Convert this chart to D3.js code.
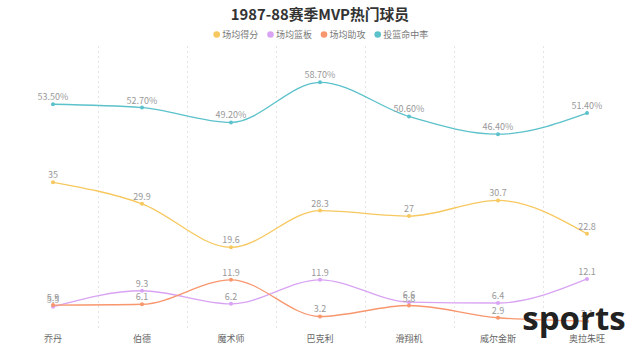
<!DOCTYPE html>
<html><head><meta charset="utf-8">
<script src="https://cdn.jsdelivr.net/npm/d3@7"></script>
<style>body{margin:0;background:#fff}svg{display:block}</style>
</head><body><svg id="c" width="640" height="351"></svg>
<script>
const title = "1987-88赛季MVP热门球员";
const players = ["乔丹","伯德","魔术师","巴克利","滑翔机","威尔金斯","奥拉朱旺"];
const seriesNames = ["场均得分","场均篮板","场均助攻","投篮命中率"];
const points   = [35, 29.9, 19.6, 28.3, 27, 30.7, 22.8];
const rebounds = [5.5, 9.3, 6.2, 11.9, 6.6, 6.4, 12.1];
const assists  = [5.9, 6.1, 11.9, 3.2, 5.8, 2.9, 2.1];
const fgPct    = [53.5, 52.7, 49.2, 58.7, 50.6, 46.4, 51.4];
const colors = ["#f7c85f","#d9a3f3","#f8966d","#5bc1cb"];

const svg = d3.select("#c");
const font = "'Noto Sans CJK SC','Noto Sans',sans-serif";
const x = d3.scaleBand().domain(players).range([8.5, 631.5]);
const y = d3.scaleLinear().domain([0, 60]).range([330, 76.8]);
const cx = d => x(d) + x.bandwidth()/2;

// grid lines
svg.append("g").selectAll("line").data(players.slice(1)).join("line")
  .attr("x1", d => Math.round(x(d))+0.5).attr("x2", d => Math.round(x(d))+0.5)
  .attr("y1", 46).attr("y2", 330)
  .attr("stroke", "#e4e4e4").attr("stroke-dasharray", "2,3");

// x labels
const xa = svg.append("g").attr("transform","translate(0,330)")
  .call(d3.axisBottom(x).tickSize(0).tickPadding(6));
xa.select(".domain").remove();
xa.selectAll("text").attr("font-family", font).attr("font-size", 9).attr("fill", "#666");

// title
svg.append("text").attr("x", 320).attr("y", 20).attr("text-anchor","middle")
  .attr("font-family", font).attr("font-weight","bold").attr("font-size", 14.8).attr("fill","#333").text(title);

// legend
const legX = [216.7, 270.5, 324, 377.7];
const leg = svg.append("g").selectAll("g").data(seriesNames).join("g")
  .attr("transform", (d,i) => `translate(${legX[i]},34.5)`);
leg.append("circle").attr("r", 3.3).attr("fill", (d,i) => colors[i]);
leg.append("text").attr("x", 5.5).attr("y", 3.2).attr("font-family", font).attr("font-size", 9)
  .attr("fill", "#777").text(d => d);

const seriesData = [points, rebounds, assists, fgPct];
const line = d3.line().x((d,i) => cx(players[i])).y(d => y(d)).curve(d3.curveMonotoneX);
seriesData.forEach((vals, s) => {
  const g = svg.append("g");
  g.append("path").attr("d", line(vals)).attr("fill","none").attr("stroke", colors[s]).attr("stroke-width", 1.3);
  g.selectAll("circle").data(vals).join("circle")
    .attr("cx", (d,i) => cx(players[i])).attr("cy", d => y(d)).attr("r", 2).attr("fill", colors[s]);
  g.selectAll("text").data(vals).join("text")
    .attr("x", (d,i) => cx(players[i])).attr("y", d => y(d) - 4)
    .attr("text-anchor","middle").attr("font-family", font).attr("font-size", 9).attr("fill","#999")
    .text(d => s === 3 ? d.toFixed(2) + "%" : d);
});

// watermark
svg.append("text").attr("x", 574).attr("y", 330).attr("text-anchor","middle")
  .attr("font-family","'Open Sans',sans-serif").attr("font-weight","bold").attr("font-size", 33)
  .attr("fill","#222").text("sports");
</script></body></html>
